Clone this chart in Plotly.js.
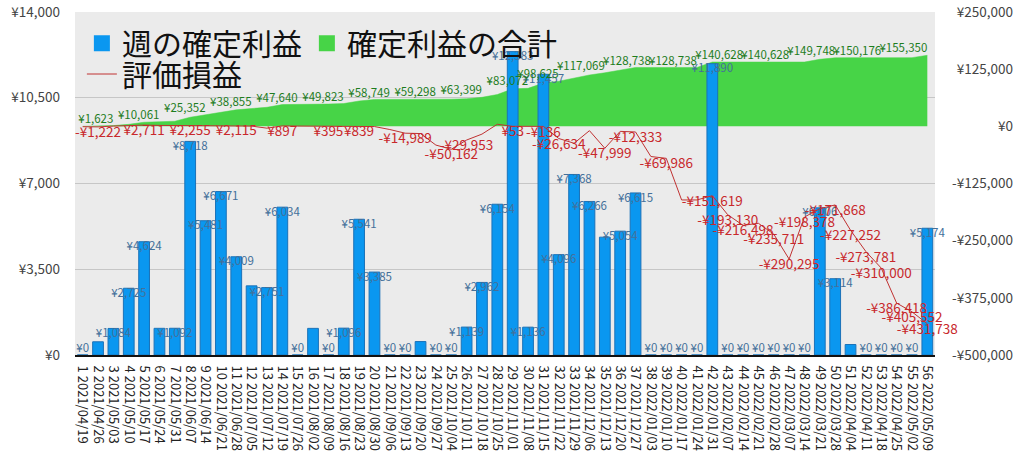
<!DOCTYPE html>
<html><head><meta charset="utf-8">
<script src="https://cdn.plot.ly/plotly-3.0.1.min.js"></script>
<style>html,body{margin:0;padding:0;background:#fff}#chart{width:1024px;height:461px}</style>
</head><body><div id="chart"></div>
<script>
// ---- data ----
const weekNo = [1,2,3,4,5,6,7,8,9,10,11,12,13,14,15,16,17,18,19,20,21,22,23,24,25,26,27,28,29,30,31,32,33,34,35,36,37,38,39,40,41,42,43,44,45,46,47,48,49,50,51,52,53,54,55,56];
const weekDates = ['2021/04/19','2021/04/26','2021/05/03','2021/05/10','2021/05/17','2021/05/24','2021/05/31','2021/06/07','2021/06/14','2021/06/21','2021/06/28','2021/07/05','2021/07/12','2021/07/19','2021/07/26','2021/08/02','2021/08/09','2021/08/16','2021/08/23','2021/08/30','2021/09/06','2021/09/13','2021/09/20','2021/09/27','2021/10/04','2021/10/11','2021/10/18','2021/10/25','2021/11/01','2021/11/08','2021/11/15','2021/11/22','2021/11/29','2021/12/06','2021/12/13','2021/12/20','2021/12/27','2022/01/03','2022/01/10','2022/01/17','2022/01/24','2022/01/31','2022/02/07','2022/02/14','2022/02/21','2022/02/28','2022/03/07','2022/03/14','2022/03/21','2022/03/28','2022/04/04','2022/04/11','2022/04/18','2022/04/25','2022/05/02','2022/05/09'];
// 週の確定利益
const weeklyProfit = [0,539,1084,2725,4624,1089,1092,8718,5481,6671,4009,2823,2751,6034,0,1087,0,1096,5541,3385,0,0,549,0,0,1139,2962,6154,12383,1136,11457,4096,7368,6266,4810,5054,6615,0,0,0,0,11890,0,0,0,0,0,0,6006,3114,428,0,0,0,0,5174];
// 確定利益の合計
const cumulativeProfit = [0,539,1623,4348,8972,10061,11153,19871,25352,32023,36032,38855,41606,47640,47640,48727,48727,49823,55364,58749,58749,58749,59298,59298,59298,60437,63399,69553,81936,83072,94529,98625,105993,112259,117069,122123,128738,128738,128738,128738,128738,140628,140628,140628,140628,140628,140628,140628,146634,149748,150176,150176,150176,150176,150176,155350];
// 評価損益
const unrealized = [-800,-1222,500,1500,2711,2000,1800,2255,1500,1800,2115,500,-4000,897,600,500,395,600,839,-500,-7000,-14989,-15800,-41000,-50162,-29953,-17000,4500,53,-500,-136,-26634,-37000,-9500,-47999,-11000,-12333,-66000,-69986,-161000,-161000,-151619,-193130,-216498,-212000,-235711,-290295,-198378,-180000,-171868,-227252,-273781,-310000,-386418,-405552,-431738];
// weeks whose value labels are visible
const barLabelWeeks = [1,3,4,5,7,8,9,10,11,13,14,15,17,18,19,20,21,22,24,25,26,27,28,29,30,31,32,33,34,36,37,38,39,40,41,42,43,44,45,46,47,48,49,50,52,53,54,55,56];
const cumLabelWeeks = [3,6,9,12,15,18,21,24,27,30,32,35,38,41,44,47,50,53,56];
const unrealLabelWeeks = [2,5,8,11,14,17,19,22,25,26,29,31,32,35,37,39,42,43,44,46,47,48,50,51,52,53,54,55,56];
// axis ticks
const leftTickVals = [0,3500,7000,10500,14000];
const leftTickText = ['¥0','¥3,500','¥7,000','¥10,500','¥14,000'];
const rightTickVals = [-500000,-375000,-250000,-125000,0,125000,250000];
const rightTickText = ['-¥500,000','-¥375,000','-¥250,000','-¥125,000','¥0','¥125,000','¥250,000'];
const seriesNames = ['週の確定利益','確定利益の合計','評価損益'];

// ---- helpers ----
const cats = weekNo.map((n,i)=> n + ' ' + weekDates[i]);
const yen = v => (v<0?'-':'') + '¥' + Math.abs(v).toLocaleString('en-US');
const FONT = '"Noto Sans CJK JP", "Noto Sans", sans-serif';

const barText = weeklyProfit.map((v,i)=> barLabelWeeks.includes(i+1) ? yen(v) : '');
const barTextPos = weeklyProfit.map(v=> v===0 ? 'top center' : 'bottom center');
const cumText = cumulativeProfit.map((v,i)=> cumLabelWeeks.includes(i+1) ? yen(v) : '');
const unrText = unrealized.map((v,i)=> unrealLabelWeeks.includes(i+1) ? yen(v) : '');

const traces = [
  { // green area on main axis (right scale)
    type:'scatter', mode:'lines', x:cats, y:cumulativeProfit, yaxis:'y',
    fill:'tozeroy', fillcolor:'#47d447', line:{color:'#47d447', width:0.5},
    showlegend:false, hoverinfo:'skip'
  },
  { // bars on left scale
    type:'bar', x:cats, y:weeklyProfit, yaxis:'y2', name:seriesNames[0],
    marker:{color:'#0a97f0', line:{color:'#1b72b8', width:1}},
    showlegend:false
  },
  { // bar labels
    type:'scatter', mode:'text', x:cats, y:weeklyProfit, yaxis:'y2', cliponaxis:false,
    text:barText, textposition:barTextPos,
    textfont:{family:FONT, size:11.5, color:'#44709a'}, showlegend:false, hoverinfo:'skip'
  },
  { // cumulative labels
    type:'scatter', mode:'text', x:cats, y:cumulativeProfit, yaxis:'y3', cliponaxis:false,
    text:cumText, textposition:'top left',
    textfont:{family:FONT, size:11.5, color:'#1e7d1e'}, showlegend:false, hoverinfo:'skip'
  },
  { // unrealized line
    type:'scatter', mode:'lines+text', x:cats, y:unrealized, yaxis:'y3', name:seriesNames[2], cliponaxis:false,
    line:{color:'#c03232', width:1}, text:unrText, textposition:'bottom center',
    textfont:{family:FONT, size:13.5, color:'#c8282c'}, legend:'legend2', showlegend:true
  },
  { // legend entries (squares)
    type:'scatter', mode:'markers', x:[cats[0]], y:[null], yaxis:'y2', name:seriesNames[0],
    marker:{symbol:'square', size:16, color:'#0a97f0'}, legend:'legend', hoverinfo:'skip'
  },
  {
    type:'scatter', mode:'markers', x:[cats[0]], y:[null], yaxis:'y2', name:seriesNames[1],
    marker:{symbol:'square', size:16, color:'#47d447'}, legend:'legend', hoverinfo:'skip'
  }
];

const layout = {
  width:1024, height:461,
  margin:{l:75, r:89, t:12, b:106, pad:0},
  paper_bgcolor:'#ffffff', plot_bgcolor:'#ebebeb',
  font:{family:FONT, color:'#333'},
  bargap:0.3,
  showlegend:true,
  xaxis:{type:'category', categoryorder:'array', categoryarray:cats, range:[-0.5, 55.5], autorange:false,
    tickmode:'array', tickvals:cats, ticktext:cats, tickangle:90, ticklabelstandoff:6,
    tickfont:{family:FONT, size:13, color:'#222'}, showline:true, linecolor:'#111', linewidth:2,
    ticks:'', showgrid:false, zeroline:false, automargin:false, fixedrange:true},
  yaxis:{range:[-500000,250000], autorange:false, showticklabels:false, showgrid:false, zeroline:false, ticks:'', fixedrange:true},
  yaxis2:{overlaying:'y', side:'left', range:[0,14000], autorange:false, tickvals:leftTickVals, ticktext:leftTickText,
    showgrid:true, gridcolor:'#c6c6c6', gridwidth:1, zeroline:false, ticks:'', ticklabelstandoff:14,
    tickfont:{family:FONT, size:13.5, color:'#444'}, automargin:false, fixedrange:true},
  yaxis3:{overlaying:'y', side:'left', anchor:'free', position:1, range:[-500000,250000], autorange:false,
    tickvals:rightTickVals, ticktext:rightTickText, showgrid:false, zeroline:false, ticks:'', showline:false,
    ticklabelstandoff:-78, tickfont:{family:FONT, size:13.5, color:'#444'}, automargin:false, fixedrange:true},
  legend:{orientation:'h', x:0.008, y:0.985, xanchor:'left', yanchor:'top', bgcolor:'rgba(0,0,0,0)',
    font:{family:FONT, size:30, color:'#111'}, itemclick:false, traceorder:'normal'},
  legend2:{orientation:'h', x:0.008, y:0.895, xanchor:'left', yanchor:'top', bgcolor:'rgba(0,0,0,0)',
    font:{family:FONT, size:30, color:'#111'}, itemclick:false}
};

Plotly.newPlot('chart', traces, layout, {displayModeBar:false, staticPlot:true});
</script></body></html>
